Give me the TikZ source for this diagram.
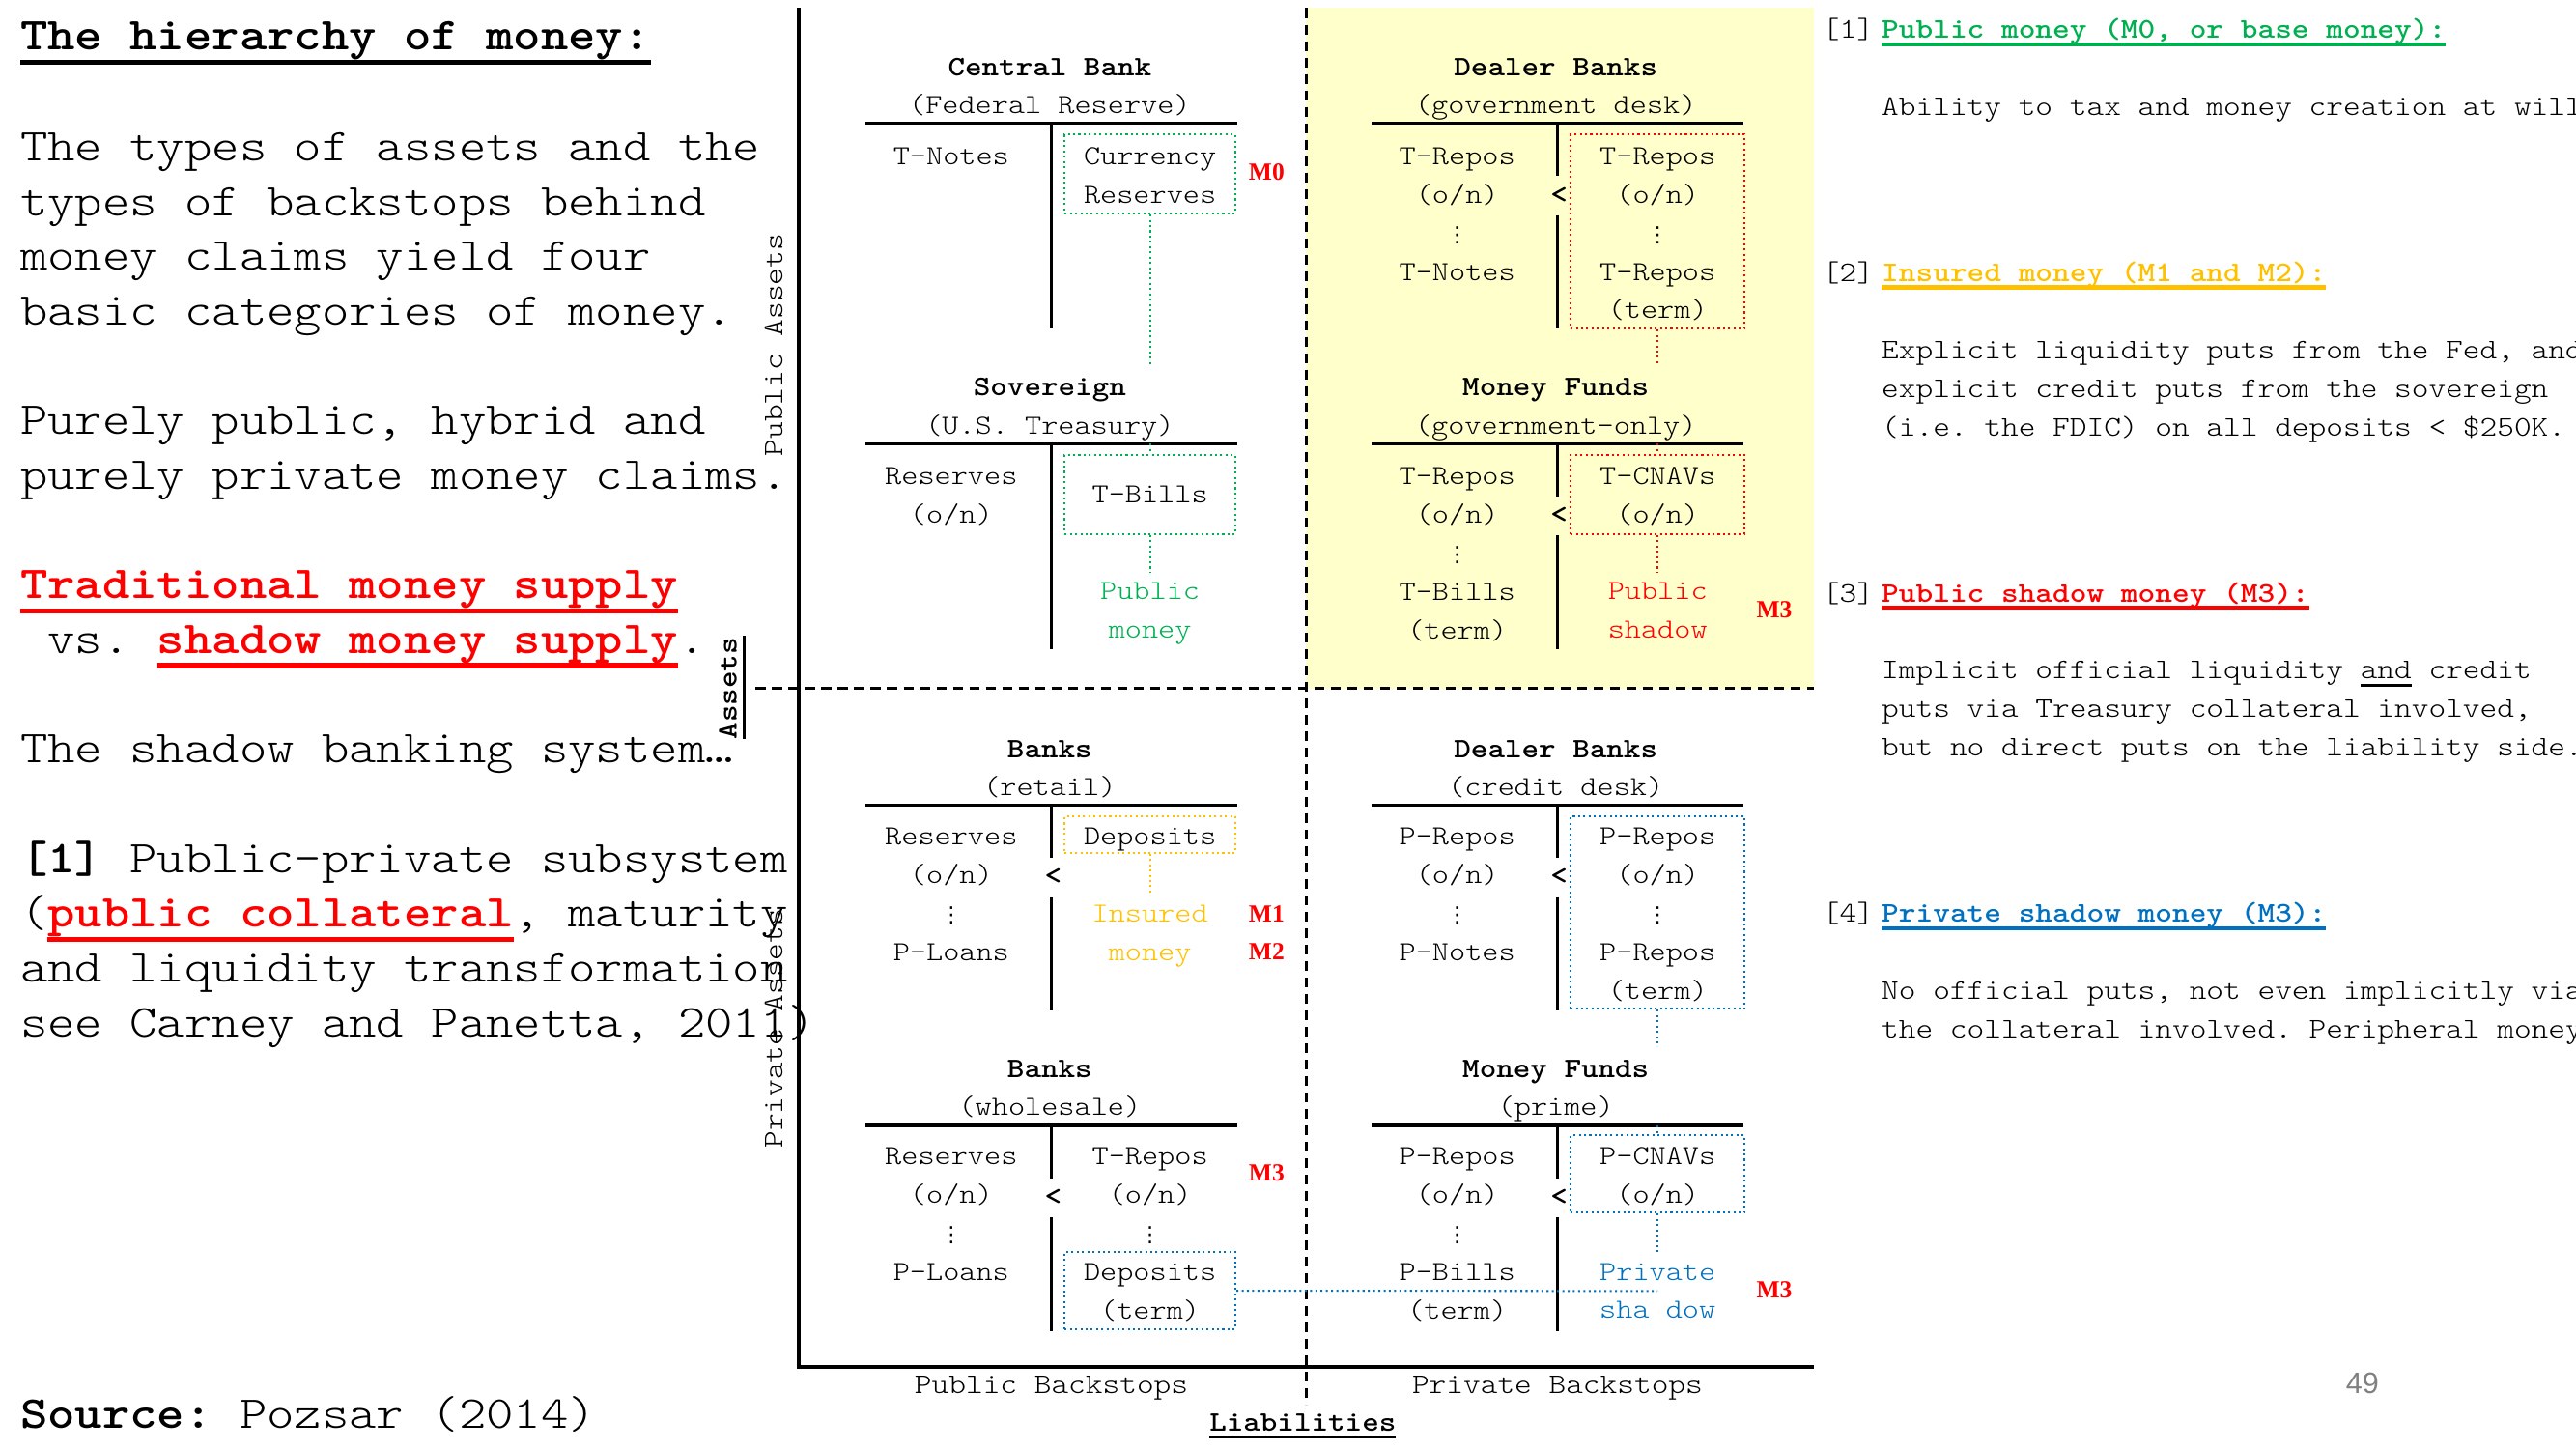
\documentclass[tikz,border=0pt]{standalone}
\usepackage{fontspec}
\usetikzlibrary{calc}
\newfontfamily\cour{lmmonolt10-regular}[Extension=.otf,BoldFont=lmmonolt10-bold,FakeStretch=1.143]
\newfontfamily\symf{DejaVu Sans}
\newfontfamily\serf{Liberation Serif}
\newfontfamily\pagenofont{Liberation Sans}
\definecolor{pubgreen}{HTML}{00B050}
\definecolor{insorange}{HTML}{FFC000}
\definecolor{shred}{HTML}{FF0000}
\definecolor{privblue}{HTML}{0070C0}
\definecolor{quadyellow}{HTML}{FFFFCC}
\frenchspacing
\newcommand\bigtxt{\cour\fontsize{13.9}{16.66}\selectfont}
\newcommand\acctf{\cour\fontsize{8.4}{11.75}\selectfont}
\newcommand\headf{\cour\bfseries\fontsize{8.6}{11.75}\selectfont}
\newcommand\notef{\cour\fontsize{8.67}{11.75}\selectfont}
\newcommand\mfont{\serf\bfseries\fontsize{7.5}{9}\selectfont}
\newcommand\vd{{\symf\fontsize{6.5}{6.5}\selectfont ⋮}}
\newcommand\thickul[3]{\setbox0=\hbox{#3}\rlap{\rule[-#1]{\wd0}{#2}}\box0\relax}
\tikzset{%
	cell/.style = {font=\acctf,anchor=base,inner sep=0},
	head/.style = {font=\headf,anchor=base,inner sep=0},
	note/.style = {font=\notef,anchor=base west,inner sep=0,align=left},
	tline/.style = {line width=1pt},
	divider/.style = {densely dashed,line width=.8pt},
	dbox/.style = {draw,densely dotted,line width=.6pt,inner sep=0},
	conn/.style = {densely dotted,line width=.6pt},
	mlabel/.style = {font=\mfont,text=shred,inner sep=0}%
}
% cx, rule y, name, title, subtitle
\newcommand\tacct[5]{%
	\node[head] (#3-t) at (#1-1,#2-29) {#4};
	\node[cell] (#3-s) at (#1-1,#2-6) {#5};
	\draw[tline] (#1-113,#2) -- (#1+113,#2);
	\coordinate (#3-top) at (#1,#2-48);
	\coordinate (#3-rule) at (#1,#2);}
% name, x, centre y of first row, colour, entries
\newcommand\acctrows[5]{%
	\foreach \entry [count=\k from 0] in {#5}
		\node[cell,text=#4] (#1-\k) at (#2,#3+5+23.5*\k) {\entry};}

\begin{document}
\begin{tikzpicture}[x=0.5pt,y=-0.5pt]
		\useasboundingbox (0,0) rectangle (1568,882);
		\clip (0,0) rectangle (1568,882);
		
		\fill[quadyellow] (795,5) rectangle (1104,419);
		\draw[line width=1.1pt] (486,5) -- (486,832) -- (1104,832);
		\draw[divider] (795,5) -- (795,855);
		\draw[divider] (460,419) -- (1104,419);
		
		\tacct{640}{75}{cb}{Central Bank}{(Federal Reserve)}
		\tacct{640}{270}{sov}{Sovereign}{(U.S. Treasury)}
		\tacct{948}{75}{dbg}{Dealer Banks}{(government desk)}
		\tacct{948}{270}{mfg}{Money Funds}{(government-only)}
		\tacct{640}{490}{bkr}{Banks}{(retail)}
		\tacct{640}{685}{bkw}{Banks}{(wholesale)}
		\tacct{948}{490}{dbc}{Dealer Banks}{(credit desk)}
		\tacct{948}{685}{mfp}{Money Funds}{(prime)}
		
		\foreach \cx/\ly in {640/75,640/270}
			\draw[tline] (\cx,\ly) -- (\cx,\ly+125);
		\foreach \cx/\ly in {948/75,948/270,640/490,640/685,948/490,948/685}{
			\draw[tline] (\cx,\ly) -- (\cx,\ly+32) (\cx,\ly+56) -- (\cx,\ly+125);
			\node[cell,font=\headf] (lt-\cx-\ly) at (\cx+1,\ly+48.5) {<};}
		
		\node[dbox,pubgreen,minimum width=52pt,minimum height=24pt](cb-box) at (700,106){};
		\node[dbox,pubgreen,minimum width=52pt,minimum height=24pt](sov-box) at (700,301){};
		\node[dbox,shred,minimum width=53pt,minimum height=59pt](dbg-box) at (1009,141){};
		\node[dbox,shred,minimum width=53pt,minimum height=24pt](mfg-box) at (1009,301){};
		\node[dbox,insorange,minimum width=52pt,minimum height=11pt](bkr-box) at (700,508){};
		\node[dbox,privblue,minimum width=52pt,minimum height=23.5pt](bkw-box) at (700,785.5){};
		\node[dbox,privblue,minimum width=53pt,minimum height=58.5pt](dbc-box) at (1009,555.5){};
		\node[dbox,privblue,minimum width=53pt,minimum height=23.5pt](mfp-box) at (1009,714.5){};
		
		\acctrows{cb-l}{579}{95}{black}{T-Notes}
		\acctrows{cb-r}{700}{95}{black}{Currency,Reserves}
		\acctrows{sov-l}{579}{290}{black}{Reserves,(o/n)}
		\acctrows{sov-r}{700}{301}{black}{T-Bills}
		\acctrows{sov-pm}{700}{360}{pubgreen}{Public,money}
		\acctrows{dbg-l}{887}{95}{black}{T-Repos,(o/n),\vd,T-Notes}
		\acctrows{dbg-r}{1009}{95}{black}{T-Repos,(o/n),\vd,T-Repos,(term)}
		\acctrows{mfg-l}{887}{290}{black}{T-Repos,(o/n),\vd,T-Bills,(term)}
		\acctrows{mfg-r}{1009}{290}{black}{T-CNAVs,(o/n)}
		\acctrows{mfg-ps}{1009}{360}{shred}{Public,shadow}
		\acctrows{bkr-l}{579}{509}{black}{Reserves,(o/n),\vd,P-Loans}
		\acctrows{bkr-r}{700}{509}{black}{Deposits}
		\acctrows{bkr-im}{700}{556}{insorange}{Insured,money}
		\acctrows{bkw-l}{579}{704}{black}{Reserves,(o/n),\vd,P-Loans}
		\acctrows{bkw-r}{700}{704}{black}{T-Repos,(o/n),\vd,Deposits,(term)}
		\acctrows{dbc-l}{887}{509}{black}{P-Repos,(o/n),\vd,P-Notes}
		\acctrows{dbc-r}{1009}{509}{black}{P-Repos,(o/n),\vd,P-Repos,(term)}
		\acctrows{mfp-l}{887}{704}{black}{P-Repos,(o/n),\vd,P-Bills,(term)}
		\acctrows{mfp-r}{1009}{704}{black}{P-CNAVs,(o/n)}
		\acctrows{mfp-pv}{1009}{774}{privblue}{Private,sha dow}
		
		\draw[conn,pubgreen] (cb-box.south) -- (cb-box.south |- sov-top);
		\draw[conn,pubgreen] (sov-box.north |- sov-rule) -- (sov-box.north);
		\draw[conn,pubgreen] (sov-box) -- ([yshift=3pt]sov-pm-0.north);
		\draw[conn,shred] (dbg-box.south) -- (dbg-box.south |- mfg-top);
		\draw[conn,shred] (mfg-box.north |- mfg-rule) -- (mfg-box.north);
		\draw[conn,shred] (mfg-box) -- ([yshift=3pt]mfg-ps-0.north);
		\draw[conn,insorange] (bkr-box) -- ([yshift=3pt]bkr-im-0.north);
		\draw[conn,privblue] (dbc-box.south) -- (dbc-box.south |- mfp-top);
		\draw[conn,privblue] (mfp-box.north |- mfp-rule) -- (mfp-box.north);
		\draw[conn,privblue] (mfp-box) -- ([yshift=3pt]mfp-pv-0.north);
		\draw[conn,privblue] (bkw-box.east) -- ($(mfp-pv-0)!.5!(mfp-pv-1)$);
		
		\node[mlabel] (m0) at (771,105) {M0};
		\node[mlabel] (m1) at (771,556) {M1};
		\node[mlabel] (m2) at (771,579) {M2};
		\node[mlabel] (m3a) at (771,714) {M3};
		\node[mlabel] (m3b) at (1080,371) {M3};
		\node[mlabel] (m3c) at (1080,785) {M3};
		
		\node[font=\notef,rotate=90,inner sep=0] (pubass) at (471,210) {Public Assets};
		\node[font=\notef,rotate=90,inner sep=0] (privass) at (471,626) {Private Assets};
		\node[font=\headf,rotate=90,inner sep=0] (assets) at (443,419) {Assets};
		\draw[line width=.8pt] (453,387) -- (453,450);
		\node[font=\notef,inner sep=0] (pubbs) at (640,845) {Public Backstops};
		\node[font=\notef,inner sep=0] (privbs) at (948,845) {Private Backstops};
		\node[font=\headf,inner sep=0] (liab) at (793,868) {\thickul{2.4pt}{1pt}{Liabilities}};
		\node[font={\pagenofont\fontsize{9}{9}\selectfont},text=gray,inner sep=0] (pageno) at (1438,842) {49};
		
		\node[anchor=base west,inner sep=0,font=\bigtxt] (title) at (12,30.5)
			{\bfseries\thickul{4.4pt}{1.35pt}{The hierarchy of money:}};
		\node[anchor=base west,align=left,inner sep=0,font=\bigtxt] (body) at (12,631)
			{The types of assets and the\\
			types of backstops behind\\
			money claims yield four\\
			basic categories of money.\\[16.66pt]
			Purely public, hybrid and\\
			purely private money claims.\\[16.66pt]
			{\color{shred}\bfseries\thickul{4.5pt}{1.6pt}{Traditional money supply}}\\
			~vs. {\color{shred}\bfseries\thickul{4.5pt}{1.6pt}{shadow money supply}}.\\[16.66pt]
			The shadow banking system…\\[16.66pt]
			{\bfseries [1]} Public-private subsystem\\
			({\color{shred}\bfseries\thickul{4.5pt}{1.6pt}{public collateral}}, maturity\\
			and liquidity transformation\\
			see Carney and Panetta, 2011)};
		\node[anchor=base west,inner sep=0,font=\bigtxt] (source) at (12,869)
			{\textbf{Source:} Pozsar (2014)};
		
		\node[note] (n1k) at (1109,23.3) {[1]};
		\node[note] (n1) at (1145,23.3) {\color{pubgreen}\bfseries\thickul{2.4pt}{1.2pt}{Public money (M0, or base money):}};
		\node[note] (n1b) at (1145,70.3) {Ability to tax and money creation at will};
		\node[note] (n2k) at (1109,171.3) {[2]};
		\node[note] (n2) at (1145,171.3) {\color{insorange}\bfseries\thickul{2.4pt}{1.2pt}{Insured money (M1 and M2):}};
		\node[note] (n2b) at (1145,265.3) {Explicit liquidity puts from the Fed, and\\
			explicit credit puts from the sovereign\\
			(i.e. the FDIC) on all deposits < \$250K.};
		\node[note] (n3k) at (1109,366.3) {[3]};
		\node[note] (n3) at (1145,366.3) {\color{shred}\bfseries\thickul{2.4pt}{1.2pt}{Public shadow money (M3):}};
		\node[note] (n3b) at (1145,460.3) {Implicit official liquidity \thickul{2.4pt}{1pt}{and} credit\\
			puts via Treasury collateral involved,\\
			but no direct puts on the liability side.};
		\node[note] (n4k) at (1109,561.3) {[4]};
		\node[note] (n4) at (1145,561.3) {\color{privblue}\bfseries\thickul{2.4pt}{1.2pt}{Private shadow money (M3):}};
		\node[note] (n4b) at (1145,631.8) {No official puts, not even implicitly via\\
			the collateral involved. Peripheral money};
		\end{tikzpicture}
\end{document}
